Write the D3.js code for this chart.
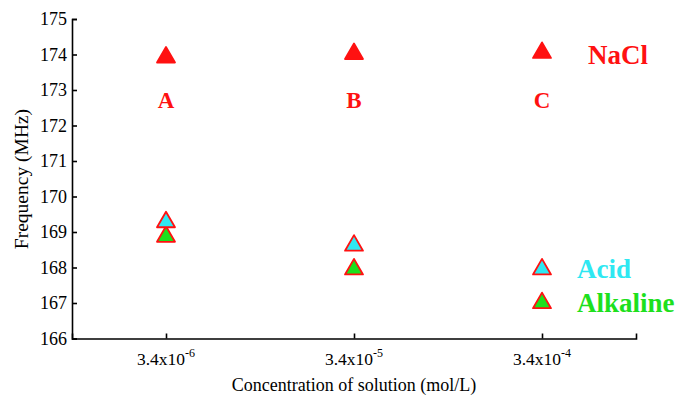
<!DOCTYPE html>
<html>
<head>
<meta charset="utf-8">
<script src="https://cdn.jsdelivr.net/npm/d3@7"></script>
<style>
body { margin: 0; background: #fff; }
</style>
</head>
<body>
<script>
// chart values
var categories = ["-6", "-5", "-4"];       // exponents of 3.4x10^n
var letters = ["A", "B", "C"];
var naclValues = [173.92, 174.02, 174.05];
var acidValues = [169.28, 168.62];
var alkalineValues = [168.87, 167.95];
var yTicks = [166, 167, 168, 169, 170, 171, 172, 173, 174, 175];

var legendItems = [
    {name: "Acid", value: 167.95, fill: "#2ee8f2"},
    {name: "Alkaline", value: 167.0, fill: "#1de01d"}
];

var width = 677,
    height = 403;

var red = "#ff1111";
var serif = "'Liberation Serif', 'DejaVu Serif', serif";

var svg = d3.select("body").append("svg")
    .attr("width", width)
    .attr("height", height)
    .attr("font-family", serif);

var x = d3.scalePoint()
    .domain(categories)
    .range([72, 636])
    .padding(0.5);

var y = d3.scaleLinear()
    .domain([166, 175])
    .range([338.5, 19]);

// axes
var yAxis = svg.append("g")
    .attr("transform", "translate(72,0)")
    .call(d3.axisRight(y).tickValues(yTicks).tickSize(5).tickFormat(d3.format("d")));
yAxis.attr("font-family", serif);
yAxis.selectAll("text")
    .attr("x", -5)
    .attr("text-anchor", "end")
    .attr("font-size", 18);

var xAxis = svg.append("g")
    .attr("transform", "translate(0,338.5)")
    .call(d3.axisTop(x).tickSize(5).tickFormat(""));

svg.selectAll(".domain").attr("stroke", "#000").attr("stroke-width", 1.6);
svg.selectAll(".tick line").attr("stroke", "#000").attr("stroke-width", 1.6);
svg.selectAll(".tick text").attr("fill", "#000");

// x tick labels with superscripts
var xLabels = svg.append("g").selectAll("text")
    .data(categories)
    .enter().append("text")
    .attr("x", function(d) { return x(d); })
    .attr("y", 365)
    .attr("text-anchor", "middle")
    .attr("font-size", 17.5);
xLabels.append("tspan").text("3.4x10");
xLabels.append("tspan")
    .attr("dy", -8)
    .attr("font-size", 12)
    .text(function(d) { return d; });

svg.append("text")
    .attr("x", 354)
    .attr("y", 391)
    .attr("text-anchor", "middle")
    .attr("font-size", 18)
    .text("Concentration of solution (mol/L)");

svg.append("text")
    .attr("transform", "translate(28,179) rotate(-90)")
    .attr("text-anchor", "middle")
    .attr("font-size", 19.5)
    .text("Frequency (MHz)");

var tri = d3.symbol().type(d3.symbolTriangle).size(140);

function drawTriangles(values, fill) {
    svg.append("g").selectAll("path")
        .data(values)
        .enter().append("path")
        .attr("d", tri)
        .attr("transform", function(d, i) {
            return "translate(" + x(categories[i]) + "," + y(d) + ")";
        })
        .attr("fill", fill)
        .attr("stroke", red)
        .attr("stroke-width", 1.8)
        .attr("stroke-linejoin", "round");
}

drawTriangles(naclValues, red);
drawTriangles(alkalineValues, legendItems[1].fill);
drawTriangles(acidValues, legendItems[0].fill);

// letters under NaCl points
svg.append("g").selectAll("text")
    .data(letters)
    .enter().append("text")
    .attr("x", function(d, i) { return x(categories[i]); })
    .attr("y", y(172.72) + 8)
    .attr("text-anchor", "middle")
    .attr("fill", red)
    .attr("font-weight", "bold")
    .attr("font-size", 23)
    .text(function(d) { return d; });

svg.append("text")
    .attr("x", 588)
    .attr("y", y(174) + 9)
    .attr("fill", red)
    .attr("font-weight", "bold")
    .attr("font-size", 27)
    .text("NaCl");

// legend for acid / alkaline
var legend = svg.append("g").selectAll("g")
    .data(legendItems)
    .enter().append("g")
    .attr("transform", function(d) {
        return "translate(" + x(categories[2]) + "," + y(d.value) + ")";
    });

legend.append("path")
    .attr("d", tri)
    .attr("fill", function(d) { return d.fill; })
    .attr("stroke", red)
    .attr("stroke-width", 1.8)
    .attr("stroke-linejoin", "round");

legend.append("text")
    .attr("x", 35)
    .attr("y", 9)
    .attr("fill", function(d) { return d.fill; })
    .attr("font-weight", "bold")
    .attr("font-size", 27)
    .text(function(d) { return d.name; });
</script>
</body>
</html>
